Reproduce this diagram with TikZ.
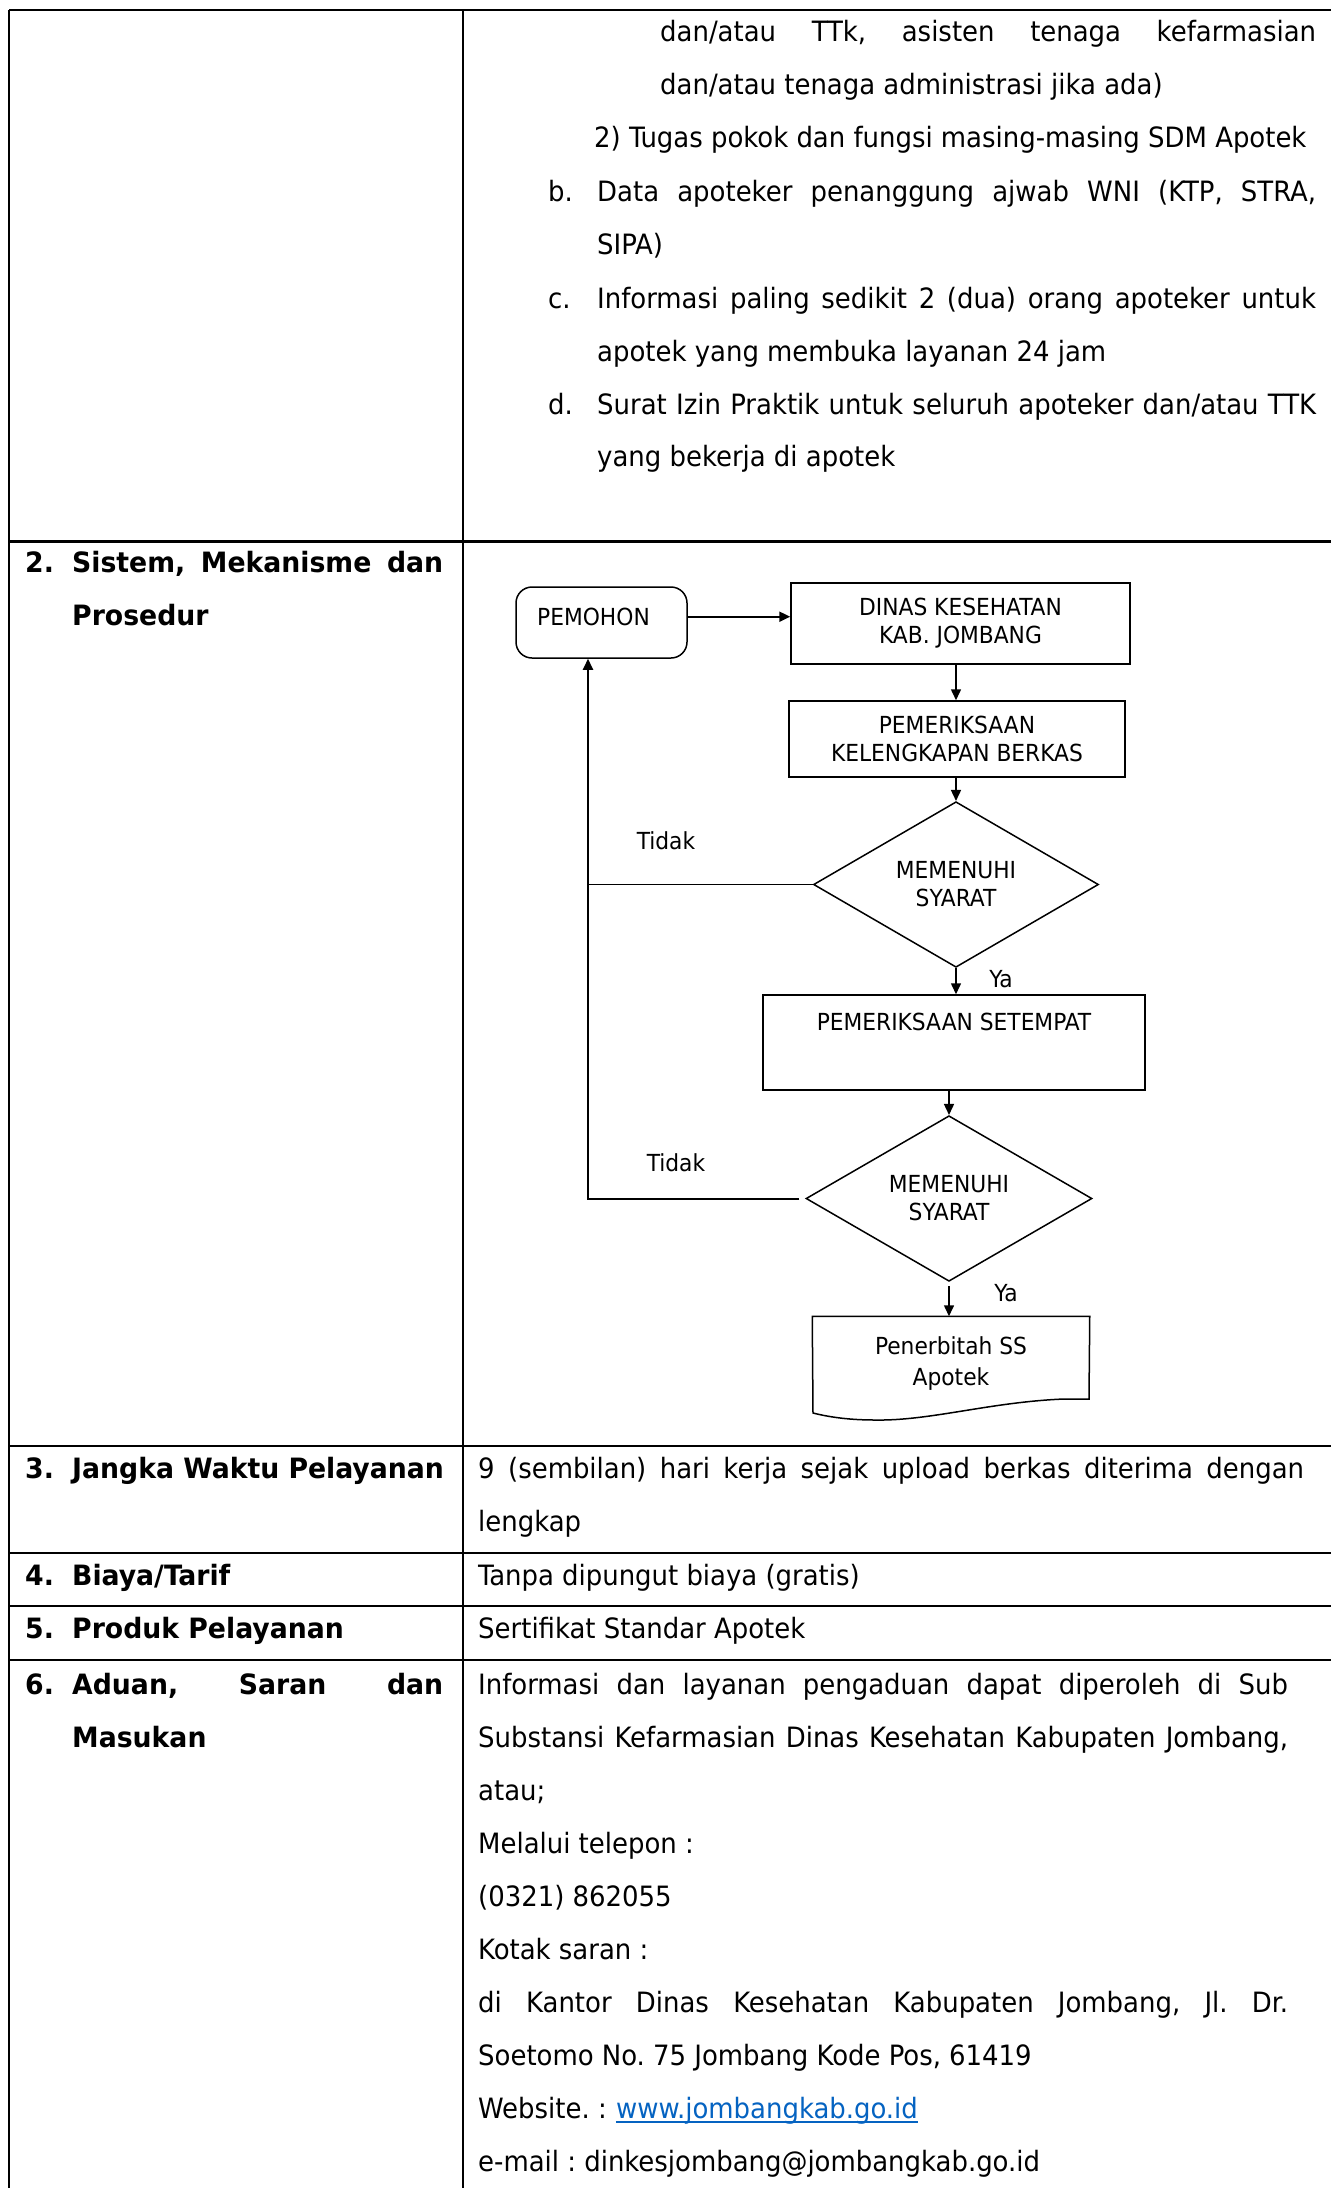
\documentclass[tikz,border=0pt]{standalone}
\usepackage{fontspec}
\setmainfont{DejaVu Sans Condensed}[FakeStretch=1.03]
\newfontfamily\headfont{DejaVu Sans Condensed Bold}[FakeStretch=1.06]
\usetikzlibrary{shapes.geometric,arrows.meta}
\definecolor{linkblue}{HTML}{0563C1}
% one line of text spread to a given width
\newcommand\spreadline[2]{\makebox[#1][s]{#2}}

\begin{document}
\frenchspacing
\begin{tikzpicture}[x=1pt,y=-1pt,
  grid/.style={line width=2.2pt},
  body/.style={anchor=base west, inner sep=0pt, font=\fontsize{28}{33}\selectfont},
  head/.style={body, font=\fontsize{28}{33}\selectfont\headfont},
  flow/.style={draw, line width=1.5pt, font=\fontsize{23.5}{28}\selectfont, align=center, inner sep=0pt},
  box/.style={flow, rectangle},
  decision/.style={flow, diamond},
  tag/.style={inner sep=0pt, font=\fontsize{23.5}{28}\selectfont},
  link/.style={line width=1.5pt, -{Triangle[length=11pt,width=10pt]}},
  plain/.style={line width=1.5pt},
]
\useasboundingbox (0,0) rectangle (1331,2188);

% ---------- table rules ----------
\draw[grid] (9,10) -- (1331,10);
\draw[grid] (9,10) -- (9,2188);
\draw[grid] (463,10) -- (463,2188);
\foreach \yy in {541.5,1446,1553,1606,1660}
  \draw[grid] (9,\yy) -- (1331,\yy);

% ---------- row 1 (continued list) ----------
\node[body] (r1a) at (660,41) {\spreadline{656pt}{dan/atau TTk, asisten tenaga kefarmasian}};
\node[body] (r1b) at (660,94) {dan/atau tenaga administrasi jika ada)};
\node[body] (r1c) at (594,147) {2) Tugas pokok dan fungsi masing-masing SDM Apotek};
\node[body] (r1d) at (548,201) {b.};
\node[body] (r1e) at (597,201) {\spreadline{719pt}{Data apoteker penanggung ajwab WNI (KTP, STRA,}};
\node[body] (r1f) at (597,254) {SIPA)};
\node[body] (r1g) at (548,308) {c.};
\node[body] (r1h) at (597,308) {\spreadline{719pt}{Informasi paling sedikit 2 (dua) orang apoteker untuk}};
\node[body] (r1i) at (597,361) {apotek yang membuka layanan 24 jam};
\node[body] (r1j) at (548,414) {d.};
\node[body] (r1k) at (597,414) {\spreadline{719pt}{Surat Izin Praktik untuk seluruh apoteker dan/atau TTK}};
\node[body] (r1l) at (597,466) {yang bekerja di apotek};

% ---------- row 2: procedure ----------
\node[head] (n2) at (25,572) {2.};
\node[head] (h2) at (72,572) {\spreadline{371pt}{Sistem, Mekanisme dan}};
\node[head] (h2b) at (72,625) {Prosedur};

\node[box, rounded corners=16pt, minimum width=171pt, minimum height=71pt,
      text height=38.4pt, text depth=32.6pt] (pemohon) at (601.5,622.5) {PEMOHON\hspace*{16pt}};
\node[box, minimum width=339pt, minimum height=81pt] (dinas) at (960.5,623.5)
  {DINAS KESEHATAN\\KAB. JOMBANG};
\node[box, minimum width=336pt, minimum height=76pt] (pem) at (957,739)
  {PEMERIKSAAN\\KELENGKAPAN BERKAS};
\node[decision, minimum width=285pt, minimum height=151pt] (d1) at (956,884.5)
  {MEMENUHI\\SYARAT};
\node[box, minimum width=382pt, minimum height=95pt,
      text height=35.4pt, text depth=59.6pt] (setempat) at (954,1042.5) {PEMERIKSAAN SETEMPAT};
\node[decision, minimum width=286pt, minimum height=153pt] (d2) at (949,1198.5)
  {MEMENUHI\\SYARAT};
\node[flow, draw=none, minimum width=276pt, minimum height=92pt,
      font=\fontsize{23.5}{31}\selectfont] (doc) at (951,1363) {Penerbitah SS\\Apotek};
% document outline with wavy foot
\draw[plain] (doc.north west) -- (doc.north east) -- (1089,1399)
  -- (1064,1399) .. controls (990,1402) and (930,1421) .. (875,1420)
  .. controls (845,1420) and (825,1416) .. (813,1413) -- cycle;

\coordinate (loopx) at (588,1198.5);
\node[tag] (tidak1) at (666,841) {Tidak};
\node[tag] (tidak2) at (676,1163) {Tidak};
\node[tag] (ya1) at (1001,979) {Ya};
\node[tag] (ya2) at (1006,1293) {Ya};

\draw[link, line width=2pt] ([yshift=5.8pt]pemohon.east) -- ([yshift=5.8pt]pemohon.east -| dinas.west);
\draw[link] (dinas.south -| d1.north) -- (pem.north -| d1.north);
\draw[link] (pem.south -| d1.north) -- (d1.north);
\draw[link] (d1.south) -- (d1.south |- setempat.north);
\draw[link] (setempat.south -| d2.north) -- (d2.north);
\draw[link] ([yshift=-4pt]d2.south) -- (d2.south |- doc.north);
\draw[plain] (d1.west) -- (d1.west -| loopx);
\draw[link, line width=2pt] ([xshift=-6pt]d2.west) -- (d2.west -| loopx) -- (loopx |- pemohon.south);

% ---------- row 3 ----------
\node[head] (n3) at (25,1478) {3.};
\node[head] (h3) at (72,1478) {Jangka Waktu Pelayanan};
\node[body] (t3a) at (478,1478) {\spreadline{826pt}{9 (sembilan) hari kerja sejak upload berkas diterima dengan}};
\node[body] (t3b) at (478,1531) {lengkap};

% ---------- row 4 ----------
\node[head] (n4) at (25,1585) {4.};
\node[head] (h4) at (72,1585) {Biaya/Tarif};
\node[body] (t4) at (478,1585) {Tanpa dipungut biaya (gratis)};

% ---------- row 5 ----------
\node[head] (n5) at (25,1638) {5.};
\node[head] (h5) at (72,1638) {Produk Pelayanan};
\node[body] (t5) at (478,1638) {Sertifikat Standar Apotek};

% ---------- row 6 ----------
\node[head] (n6) at (25,1694) {6.};
\node[head] (h6) at (72,1694) {\spreadline{371pt}{Aduan, Saran dan}};
\node[head] (h6b) at (72,1747) {Masukan};
\node[body] (t6a) at (478,1694) {\spreadline{810pt}{Informasi dan layanan pengaduan dapat diperoleh di Sub}};
\node[body] (t6b) at (478,1747) {\spreadline{810pt}{Substansi Kefarmasian Dinas Kesehatan Kabupaten Jombang,}};
\node[body] (t6c) at (478,1800) {atau;};
\node[body] (t6d) at (478,1853) {Melalui telepon :};
\node[body] (t6e) at (478,1906) {(0321) 862055};
\node[body] (t6f) at (478,1959) {Kotak saran :};
\node[body] (t6g) at (478,2012) {\spreadline{810pt}{di Kantor Dinas Kesehatan Kabupaten Jombang, Jl. Dr.}};
\node[body] (t6h) at (478,2065) {Soetomo No. 75 Jombang Kode Pos, 61419};
\node[body] (web) at (478,2118) {Website. :};
\node[body, text=linkblue] (url) at ([xshift=9pt]web.base east) {www.jombangkab.go.id};
\draw[linkblue, line width=1.8pt] ([yshift=-4pt]url.base west) -- ([yshift=-4pt]url.base east);
\node[body] (t6j) at (478,2171) {e-mail : dinkesjombang@jombangkab.go.id};
\end{tikzpicture}
\end{document}
